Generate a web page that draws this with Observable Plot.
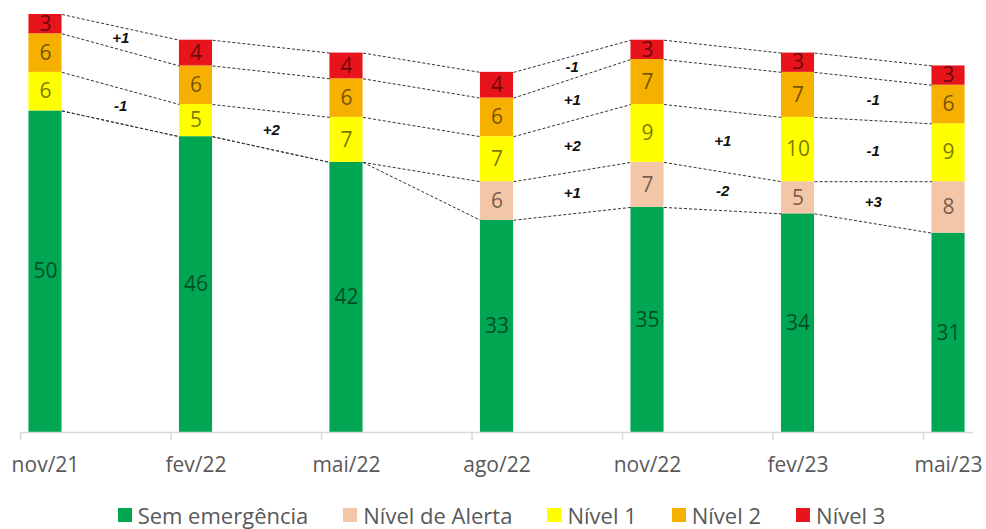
<!DOCTYPE html>
<html>
<head>
<meta charset="utf-8">
<script src="https://cdn.jsdelivr.net/npm/d3@7"></script>
<script src="https://cdn.jsdelivr.net/npm/@observablehq/plot@0.6"></script>
<style>
  body { margin: 0; background: #fff; }
  #chart { width: 986px; }
  .lg-swatches { justify-content: center !important; font-family: "Open Sans", sans-serif !important; font-size: 22px !important; line-height: 28px !important; color: #595959 !important; margin: 11px 0 0 0 !important; min-height: 0 !important; padding-left: 52px; }
  .lg-swatch { margin-right: 35px !important; }
  .lg-swatch > svg { margin-right: 6px !important; }
</style>
</head>
<body>
<div id="chart"></div>
<script>
const categories = ["nov/21", "fev/22", "mai/22", "ago/22", "nov/22", "fev/23", "mai/23"];
const series = ["Sem emergência", "Nível de Alerta", "Nível 1", "Nível 2", "Nível 3"];
const semEmergencia = [50, 46, 42, 33, 35, 34, 31];
const nivelAlerta   = [0, 0, 0, 6, 7, 5, 8];
const nivel1        = [6, 5, 7, 7, 9, 10, 9];
const nivel2        = [6, 6, 6, 6, 7, 7, 6];
const nivel3        = [3, 4, 4, 4, 3, 3, 3];
const colors = ["#00a651", "#f4c6a8", "#ffff00", "#f6b100", "#e8141c"];

// change annotations between consecutive periods
const changeFrom   = [0, 0, 1, 3, 3, 3, 3, 4, 4, 5, 5, 5];
const changeSeries = ["Nível 3", "Nível 1", "Nível 1", "Nível 3", "Nível 2", "Nível 1", "Nível de Alerta", "Nível 1", "Nível de Alerta", "Nível 2", "Nível 1", "Nível de Alerta"];
const changeLabels = ["+1", "-1", "+2", "-1", "+1", "+2", "+1", "+1", "-2", "-1", "-1", "+3"];

const valuesBySeries = [semEmergencia, nivelAlerta, nivel1, nivel2, nivel3];
const cumTop = series.map((s, k) => categories.map((c, i) => d3.sum(valuesBySeries.slice(0, k + 1), v => v[i])));
const data = [];
series.forEach((s, k) => categories.forEach((c, i) => {
  const v = valuesBySeries[k][i];
  data.push({i, category: c, series: s, value: v, y1: cumTop[k][i] - v, y2: cumTop[k][i], mid: cumTop[k][i] - v / 2});
}));
const segMid = (k, i) => cumTop[k][i] - valuesBySeries[k][i] / 2;
const links = [];
series.forEach((s, k) => {
  for (let i = 0; i < categories.length - 1; i++) links.push({i, y1: cumTop[k][i], y2: cumTop[k][i + 1]});
});
const changes = changeLabels.map((label, j) => {
  const k = series.indexOf(changeSeries[j]);
  const i = changeFrom[j];
  return {x: i + 0.5, y: (segMid(k, i) + segMid(k, i + 1)) / 2, label};
});

const halfBar = 0.11, tickOffset = 0.166;
const chart = Plot.plot({
  width: 986,
  height: 490,
  marginLeft: 20,
  marginRight: 13,
  marginTop: 14,
  marginBottom: 58,
  style: {fontFamily: "'Open Sans', sans-serif", fontSize: "21px", color: "#595959", background: "#fff"},
  x: {domain: [-tickOffset, categories.length - 1 + tickOffset], ticks: d3.range(categories.length), tickFormat: i => categories[i], tickSize: 0, tickPadding: 25, label: null},
  y: {domain: [0, 65], axis: null},
  color: {domain: series, range: colors},
  marks: [
    Plot.rect(data.filter(d => d.value > 0), {x1: d => d.i - halfBar, x2: d => d.i + halfBar, y1: "y1", y2: "y2", fill: "series"}),
    Plot.text(data.filter(d => d.value > 0), {x: "i", y: "mid", text: "value", fill: "#000", fillOpacity: 0.55, fontSize: 21}),
    Plot.link(links, {x1: d => d.i + halfBar, x2: d => d.i + 1 - halfBar, y1: "y1", y2: "y2", stroke: "#333", strokeWidth: 1, strokeDasharray: "3,2"}),
    Plot.text(changes, {x: "x", y: "y", text: "label", fontStyle: "italic", fontWeight: "bold", fontSize: 15, fontFamily: "'Liberation Sans', Arial, sans-serif", fill: "#111"}),
    Plot.ruleY([0], {stroke: "#d9d9d9", strokeWidth: 1.5}),
    Plot.ruleX(categories.map((c, i) => i - tickOffset), {y1: 0, y2: -1.25, stroke: "#d9d9d9", strokeWidth: 1.5})
  ]
});
document.getElementById("chart").append(chart);
const legend = Plot.legend({color: {domain: series, range: colors}, legend: "swatches", swatchSize: 14, className: "lg"});
document.getElementById("chart").append(legend);
</script>
</body>
</html>
